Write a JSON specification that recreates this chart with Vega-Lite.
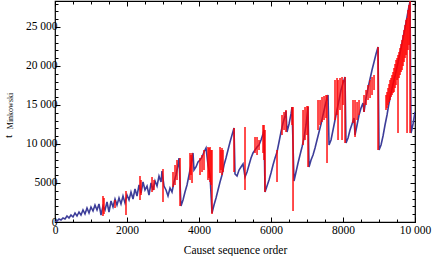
{
  "$schema": "https://vega.github.io/schema/vega-lite/v6.json",
  "width": 360,
  "height": 221,
  "autosize": {"type": "none"},
  "padding": {"left": 55, "top": 1, "right": 17, "bottom": 34},
  "background": "white",
  "config": {
    "font": "Liberation Serif",
    "view": {"stroke": "black", "strokeWidth": 1.2},
    "axis": {"labelFont": "Liberation Serif", "titleFont": "Liberation Serif", "domain": false, "grid": false, "tickColor": "black", "tickWidth": 1, "labelColor": "black", "titleColor": "black", "titleFontWeight": "normal", "labelFlush": false, "labelOverlap": false}
  },
  "datasets": {
    "blue": [
      {"x":0,"t":0},{"x":56,"t":128},{"x":111,"t":385},{"x":167,"t":256},{"x":222,"t":513},{"x":278,"t":385},{"x":333,"t":769},{"x":389,"t":513},{"x":444,"t":897},{"x":500,"t":641},{"x":556,"t":1154},{"x":611,"t":769},{"x":667,"t":1282},{"x":722,"t":897},{"x":778,"t":1538},{"x":833,"t":1026},{"x":889,"t":1795},{"x":945,"t":1154},{"x":1000,"t":1923},{"x":1056,"t":1410},{"x":1111,"t":2179},{"x":1167,"t":1538},{"x":1222,"t":2308},{"x":1278,"t":897},{"x":1333,"t":2051},{"x":1389,"t":1538},{"x":1445,"t":2564},{"x":1500,"t":1282},{"x":1556,"t":2692},{"x":1611,"t":1923},{"x":1667,"t":2949},{"x":1722,"t":2179},{"x":1778,"t":3077},{"x":1833,"t":2308},{"x":1889,"t":3333},{"x":1945,"t":2436},{"x":2000,"t":3461},{"x":2056,"t":2820},{"x":2111,"t":3846},{"x":2167,"t":2949},{"x":2222,"t":4231},{"x":2278,"t":3333},{"x":2334,"t":4743},{"x":2389,"t":3718},{"x":2445,"t":5128},{"x":2500,"t":4102},
      {"x":2556,"t":4615},{"x":2611,"t":3461},{"x":2667,"t":5000},{"x":2722,"t":4102},{"x":2778,"t":5256},{"x":2834,"t":4615},{"x":2889,"t":5897},{"x":2945,"t":5128},{"x":2972,"t":6538},{"x":3028,"t":4615},{"x":3084,"t":4102},{"x":3139,"t":3333},{"x":3195,"t":4359},{"x":3250,"t":3846},{"x":3306,"t":5128},{"x":3361,"t":6025},{"x":3417,"t":7307},{"x":3445,"t":8205},{"x":3500,"t":2051},
      {"x":3556,"t":2820},{"x":3611,"t":3846},{"x":3667,"t":4743},{"x":3723,"t":6025},{"x":3778,"t":7307},{"x":3834,"t":8846},{"x":3861,"t":6666},{"x":3917,"t":7051},{"x":3973,"t":7692},{"x":4028,"t":7948},{"x":4084,"t":8333},{"x":4139,"t":8974},{"x":4195,"t":9487},{"x":4250,"t":7307},{"x":4306,"t":6025},{"x":4361,"t":1154},
      {"x":4417,"t":2179},{"x":4473,"t":3077},{"x":4528,"t":4102},{"x":4584,"t":5128},{"x":4639,"t":6025},{"x":4695,"t":7307},{"x":4750,"t":8205},{"x":4806,"t":9230},{"x":4862,"t":10256},{"x":4917,"t":11153},{"x":4973,"t":12051},{"x":5000,"t":6154},
      {"x":5056,"t":5897},{"x":5112,"t":6666},{"x":5167,"t":7051},{"x":5223,"t":7436},{"x":5278,"t":5769},{"x":5334,"t":6410},{"x":5389,"t":7307},{"x":5445,"t":8205},{"x":5500,"t":8846},{"x":5556,"t":9230},{"x":5612,"t":9615},{"x":5667,"t":9871},{"x":5723,"t":10512},{"x":5778,"t":11282},{"x":5806,"t":11794},{"x":5834,"t":3846},
      {"x":5889,"t":4615},{"x":5945,"t":5384},{"x":6000,"t":6282},{"x":6056,"t":7307},{"x":6112,"t":8205},{"x":6167,"t":8974},{"x":6223,"t":10256},{"x":6278,"t":11538},{"x":6334,"t":12692},{"x":6389,"t":13589},{"x":6417,"t":14230},{"x":6445,"t":11538},{"x":6501,"t":12564},{"x":6556,"t":13846},{"x":6584,"t":14743},{"x":6639,"t":5256},
      {"x":6695,"t":6410},{"x":6751,"t":7564},{"x":6806,"t":8589},{"x":6862,"t":9615},{"x":6917,"t":10769},{"x":6973,"t":12435},{"x":7028,"t":14743},{"x":7056,"t":7051},
      {"x":7112,"t":7948},{"x":7167,"t":8589},{"x":7223,"t":9487},{"x":7278,"t":10512},{"x":7334,"t":11538},{"x":7390,"t":12564},{"x":7445,"t":13717},{"x":7501,"t":14871},{"x":7556,"t":15897},{"x":7584,"t":16281},{"x":7612,"t":9871},
      {"x":7667,"t":10512},{"x":7723,"t":11794},{"x":7778,"t":13076},{"x":7834,"t":14358},{"x":7890,"t":15640},{"x":7945,"t":16922},{"x":8001,"t":17820},{"x":8056,"t":18589},{"x":8084,"t":10128},
      {"x":8140,"t":10769},{"x":8195,"t":11794},{"x":8251,"t":12564},{"x":8306,"t":13333},{"x":8334,"t":11153},{"x":8390,"t":12435},{"x":8445,"t":13717},{"x":8501,"t":14615},{"x":8556,"t":15256},{"x":8584,"t":14102},{"x":8640,"t":15897},{"x":8695,"t":17179},{"x":8751,"t":18333},{"x":8806,"t":19486},{"x":8862,"t":20512},{"x":8917,"t":21538},{"x":8973,"t":22435},{"x":9001,"t":9230},
      {"x":9056,"t":9871},{"x":9112,"t":11025},{"x":9167,"t":12435},{"x":9223,"t":13717},{"x":9279,"t":15256},{"x":9334,"t":16538},{"x":9390,"t":17692},{"x":9445,"t":18717},{"x":9501,"t":19871},{"x":9556,"t":21025},{"x":9612,"t":22307},{"x":9667,"t":23589},{"x":9723,"t":24871},{"x":9779,"t":26281},{"x":9834,"t":27691},{"x":9862,"t":28204},{"x":9890,"t":11410},{"x":9945,"t":12564},{"x":10000,"t":14102}
    ],
    "red": [
      {"x":1333,"top":3333,"bottom":769},{"x":1361,"top":3077,"bottom":1026},{"x":1667,"top":2820,"bottom":1795},{"x":1972,"top":3974,"bottom":897},{"x":2361,"top":5897,"bottom":2820},{"x":2389,"top":5384,"bottom":3461},{"x":2695,"top":5769,"bottom":3846},{"x":2750,"top":5384,"bottom":4102},{"x":3000,"top":6795,"bottom":2564},{"x":3278,"top":6410,"bottom":4487},{"x":3334,"top":7307,"bottom":4743},{"x":3389,"top":7948,"bottom":5384},{"x":3473,"top":8205,"bottom":2051},
      {"x":3750,"top":8846,"bottom":5384},{"x":3778,"top":8589,"bottom":6025},{"x":3806,"top":8846,"bottom":5000},{"x":4028,"top":8205,"bottom":6025},{"x":4084,"top":8589,"bottom":6410},{"x":4139,"top":9230,"bottom":6666},{"x":4250,"top":9615,"bottom":5384},{"x":4278,"top":9487,"bottom":5641},{"x":4306,"top":9615,"bottom":5128},{"x":4334,"top":9230,"bottom":4743},{"x":4361,"top":9230,"bottom":1026},
      {"x":4584,"top":9615,"bottom":6282},{"x":4611,"top":9230,"bottom":6666},{"x":4639,"top":9487,"bottom":6025},{"x":4667,"top":9230,"bottom":6410},{"x":4973,"top":12051,"bottom":6410},{"x":5278,"top":12179,"bottom":4102},{"x":5556,"top":10897,"bottom":8846},{"x":5612,"top":10897,"bottom":8589},{"x":5667,"top":10512,"bottom":9230},{"x":5778,"top":12435,"bottom":8846},{"x":5806,"top":12435,"bottom":7948},{"x":5834,"top":11794,"bottom":3846},
      {"x":6167,"top":9230,"bottom":5128},{"x":6306,"top":13717,"bottom":11153},{"x":6362,"top":14102,"bottom":11794},{"x":6417,"top":14358,"bottom":11538},{"x":6584,"top":14743,"bottom":12435},{"x":6612,"top":14743,"bottom":1410},
      {"x":6890,"top":14358,"bottom":9871},{"x":6945,"top":14743,"bottom":10512},{"x":7000,"top":14871,"bottom":11153},{"x":7028,"top":14871,"bottom":7051},
      {"x":7306,"top":15640,"bottom":11794},{"x":7362,"top":15640,"bottom":12435},{"x":7417,"top":16025,"bottom":12820},{"x":7473,"top":16153,"bottom":13076},{"x":7528,"top":16281,"bottom":13333},{"x":7556,"top":16281,"bottom":7564},
      {"x":7778,"top":18204,"bottom":13076},{"x":7834,"top":18461,"bottom":13717},{"x":7862,"top":18204,"bottom":10512},{"x":7917,"top":18461,"bottom":14358},{"x":7973,"top":18589,"bottom":10512},{"x":8001,"top":18204,"bottom":15000},{"x":8056,"top":18589,"bottom":10128},
      {"x":8278,"top":15640,"bottom":12692},{"x":8334,"top":15640,"bottom":10897},{"x":8390,"top":15384,"bottom":13076},{"x":8445,"top":15640,"bottom":13717},
      {"x":8584,"top":16281,"bottom":14102},{"x":8640,"top":16922,"bottom":15000},{"x":8695,"top":17563,"bottom":15640},{"x":8751,"top":18204,"bottom":15897},{"x":8806,"top":18589,"bottom":16281},{"x":8862,"top":18845,"bottom":16922},
      {"x":8973,"top":22435,"bottom":9230},
      {"x":9195,"top":16281,"bottom":14358},{"x":9223,"top":16666,"bottom":14615},{"x":9251,"top":17179,"bottom":15000},{"x":9279,"top":17692,"bottom":15384},{"x":9306,"top":18204,"bottom":15640},{"x":9334,"top":18461,"bottom":16025},{"x":9362,"top":18845,"bottom":16281},{"x":9390,"top":19230,"bottom":16538},{"x":9417,"top":19743,"bottom":16666},{"x":9445,"top":20256,"bottom":17179},{"x":9473,"top":20768,"bottom":17563},{"x":9501,"top":21025,"bottom":18204},{"x":9528,"top":21409,"bottom":11410},{"x":9556,"top":21794,"bottom":18461},{"x":9584,"top":22307,"bottom":18845},{"x":9612,"top":22820,"bottom":19230},{"x":9640,"top":23332,"bottom":19486},{"x":9667,"top":23973,"bottom":19999},{"x":9695,"top":24614,"bottom":20512},{"x":9723,"top":25255,"bottom":21025},{"x":9751,"top":25896,"bottom":21409},{"x":9779,"top":26153,"bottom":11410},{"x":9806,"top":27178,"bottom":22051},{"x":9834,"top":27819,"bottom":22691},{"x":9862,"top":28332,"bottom":11410}
    ]
  },
  "layer": [
    {
      "data": {"name": "blue"},
      "mark": {"type": "line", "color": "#3d3d99", "strokeWidth": 1.6, "clip": true},
      "encoding": {
        "x": {"field": "x", "type": "quantitative", "scale": {"domain": [0, 10000], "nice": false, "zero": false},
          "axis": {"orient": "bottom", "values": [0,500,1000,1500,2000,2500,3000,3500,4000,4500,5000,5500,6000,6500,7000,7500,8000,8500,9000,9500,10000],
            "tickSize": {"condition": {"test": "datum.value % 2000 === 0", "value": -5}, "value": -3},
            "labelExpr": "datum.value % 2000 === 0 ? (datum.value >= 10000 ? replace(format(datum.value, ','), ',', ' ') : format(datum.value, 'd')) : ''",
            "labelFont": "Liberation Serif", "labelFontSize": 11.5, "labelPadding": 7, "labelBaseline": "top",
            "title": "Causet sequence order", "titleFont": "Liberation Serif", "titleFontSize": 11.5, "titleBaseline": "alphabetic", "titleY": 31}},
        "y": {"field": "t", "type": "quantitative", "scale": {"domain": [0, 28330], "nice": false, "zero": false},
          "axis": {"orient": "left", "values": [0,1000,2000,3000,4000,5000,6000,7000,8000,9000,10000,11000,12000,13000,14000,15000,16000,17000,18000,19000,20000,21000,22000,23000,24000,25000,26000,27000,28000],
            "tickSize": {"condition": {"test": "datum.value % 5000 === 0", "value": -5}, "value": -3},
            "labelExpr": "datum.value % 5000 === 0 ? (datum.value >= 10000 ? replace(format(datum.value, ','), ',', ' ') : format(datum.value, 'd')) : ''",
            "labelFont": "Liberation Serif", "labelFontSize": 11.5, "labelPadding": 3,
            "title": "t", "titleFont": "Liberation Serif", "titleFontSize": 11, "titleAngle": -90, "titleAlign": "center", "titleBaseline": "alphabetic", "titleX": -44, "titleY": 135}}
      }
    },
    {
      "data": {"name": "red"},
      "mark": {"type": "rule", "color": "#ff0000", "strokeWidth": 1.4, "clip": true},
      "encoding": {
        "x": {"field": "x", "type": "quantitative",
          "axis": {"orient": "top", "values": [0,500,1000,1500,2000,2500,3000,3500,4000,4500,5000,5500,6000,6500,7000,7500,8000,8500,9000,9500,10000],
            "tickSize": {"condition": {"test": "datum.value % 2000 === 0", "value": -5}, "value": -3},
            "labels": false, "title": null}},
        "y": {"field": "top", "type": "quantitative",
          "axis": {"orient": "right", "values": [0,1000,2000,3000,4000,5000,6000,7000,8000,9000,10000,11000,12000,13000,14000,15000,16000,17000,18000,19000,20000,21000,22000,23000,24000,25000,26000,27000,28000],
            "tickSize": {"condition": {"test": "datum.value % 5000 === 0", "value": -5}, "value": -3},
            "labels": false,
            "title": "Minkowski", "titleFont": "Liberation Serif", "titleFontSize": 8, "titleAngle": -90, "titleAlign": "center", "titleBaseline": "alphabetic", "titleX": -402.5, "titleY": 109.5}},
        "y2": {"field": "bottom"}
      }
    }
  ],
  "resolve": {"axis": {"x": "independent", "y": "independent"}}
}
